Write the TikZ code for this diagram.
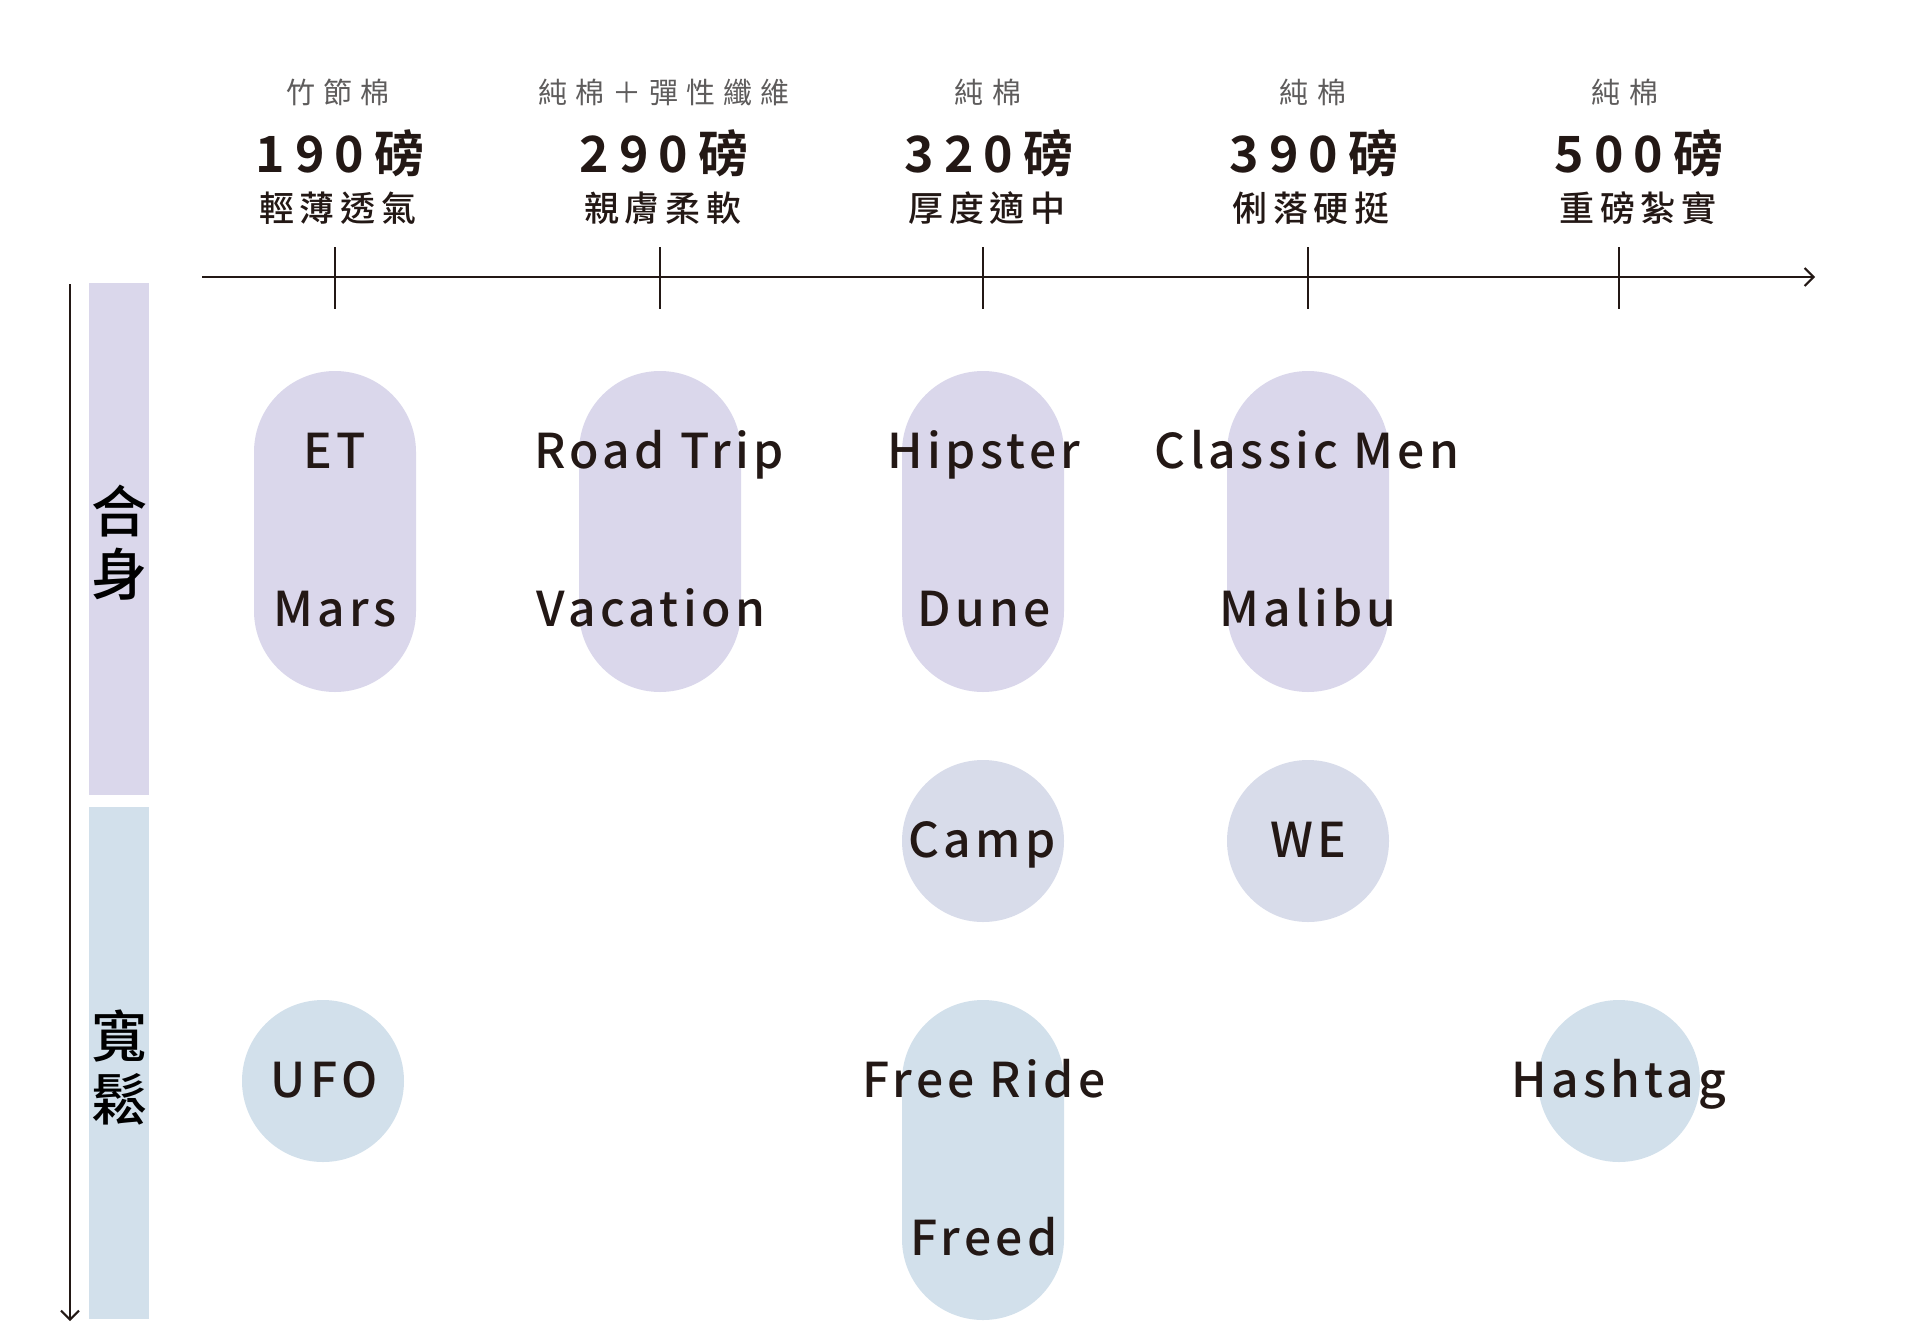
\documentclass[tikz,border=0pt]{standalone}
\usepackage{fontspec}
\setmainfont{Noto Sans CJK TC}
\newfontfamily\tagfont[LetterSpace=9]{Noto Sans CJK TC Medium}
\newfontfamily\weightfont[LetterSpace=20]{Noto Sans CJK TC Bold}
\newfontfamily\feelfont[LetterSpace=17]{Noto Sans CJK TC Medium}
\newfontfamily\sidefont{Noto Sans CJK TC Medium}
\newfontfamily\fabricfont[LetterSpace=28]{Noto Sans CJK TC}
\usetikzlibrary{arrows.meta}
\definecolor{ink}{HTML}{231815}
\definecolor{fabricgray}{HTML}{5E5C5C}
\definecolor{fitpurple}{HTML}{DAD7EB}
\definecolor{looseblue}{HTML}{D2E0EB}
\definecolor{midlilac}{HTML}{D8DCEA}
\tikzset{
	fabric/.style={anchor=base, text=fabricgray, font=\fabricfont\fontsize{14.5}{14.5}\selectfont},
	weight/.style={anchor=base, text=ink, font=\weightfont\fontsize{25}{25}\selectfont},
	feel/.style={anchor=base, text=ink, font=\feelfont\fontsize{17.5}{17.5}\selectfont},
	tag/.style={anchor=base, text=ink, font=\tagfont\fontsize{24}{24}\selectfont},
	side/.style={align=center, text=black, font=\sidefont\fontsize{28}{31.5}\selectfont},
}
\def\capsule[#1](#2:#3:#4){\fill[#1, rounded corners=40.5pt] ({#2-81}, #3) rectangle ({#2+81}, #4);}

\begin{document}
\begin{tikzpicture}[x=0.5pt, y=-0.5pt]
		%%%%% START %%%%%
		\useasboundingbox (0, 0) rectangle (1920, 1338);
		
		\node[fabric] (fab190) at (338, 104) {竹節棉};
		\node[weight] (wt190) at (340, 172) {190磅};
		\node[feel] (feel190) at (338, 221) {輕薄透氣};
		
		\node[fabric] (fab290) at (664, 104) {純棉＋彈性纖維};
		\node[weight] (wt290) at (664, 172) {290磅};
		\node[feel] (feel290) at (663, 221) {親膚柔軟};
		
		\node[fabric] (fab320) at (988, 104) {純棉};
		\node[weight] (wt320) at (989, 172) {320磅};
		\node[feel] (feel320) at (987, 221) {厚度適中};
		
		\node[fabric] (fab390) at (1313, 104) {純棉};
		\node[weight] (wt390) at (1314, 172) {390磅};
		\node[feel] (feel390) at (1311, 221) {俐落硬挺};
		
		\node[fabric] (fab500) at (1625, 104) {純棉};
		\node[weight] (wt500) at (1639, 172) {500磅};
		\node[feel] (feel500) at (1638, 221) {重磅紮實};
		
		\coordinate (xstart) at (202, 277);
		\coordinate (xend) at (1815, 277);
		\draw[line width=1pt, color=ink, -{Straight Barb[length=4.5pt, width=9pt]}] (xstart) -- (xend);
		\draw[line width=1pt, color=ink] (335, 247) -- (335, 309);
		\draw[line width=1pt, color=ink] (660, 247) -- (660, 309);
		\draw[line width=1pt, color=ink] (983, 247) -- (983, 309);
		\draw[line width=1pt, color=ink] (1308, 247) -- (1308, 309);
		\draw[line width=1pt, color=ink] (1619, 247) -- (1619, 309);
		
		\coordinate (ystart) at (70, 284);
		\coordinate (yend) at (70, 1321);
		\draw[line width=1pt, color=ink, -{Straight Barb[length=4.5pt, width=9pt]}] (ystart) -- (yend);
		
		\fill[fitpurple] (89, 283) rectangle (149, 795);
		\fill[looseblue] (89, 807) rectangle (149, 1319);
		\node[side] (fit) at (119, 543) {合\\身};
		\node[side] (loose) at (119, 1068) {寬\\鬆};
		
		\capsule[fitpurple](335:371:692)
		\capsule[fitpurple](660:371:692)
		\capsule[fitpurple](983:371:692)
		\capsule[fitpurple](1308:371:692)
		\capsule[looseblue](983:1000:1320)
		\fill[midlilac] (983, 841) circle (81);
		\fill[midlilac] (1308, 841) circle (81);
		\fill[looseblue] (323, 1081) circle (81);
		\fill[looseblue] (1619, 1081) circle (81);
		
		\node[tag] (et) at (335, 468) {ET};
		\node[tag] (mars) at (335, 626) {Mars};
		\node[tag] (roadtrip) at (659, 468) {Road Trip};
		\node[tag] (vacation) at (651, 626) {Vacation};
		\node[tag] (hipster) at (984, 468) {Hipster};
		\node[tag] (dune) at (984, 626) {Dune};
		\node[tag] (classicmen) at (1307, 468) {Classic Men};
		\node[tag] (malibu) at (1308, 626) {Malibu};
		\node[tag] (camp) at (982, 857) {Camp};
		\node[tag] (we) at (1308, 857) {WE};
		\node[tag] (ufo) at (324, 1097) {UFO};
		\node[tag] (freeride) at (984, 1097) {Free Ride};
		\node[tag] (freed) at (984, 1255) {Freed};
		\node[tag] (hashtag) at (1619, 1097) {Hashtag};
		
		%%%%% END %%%%%
\end{tikzpicture}
\end{document}
